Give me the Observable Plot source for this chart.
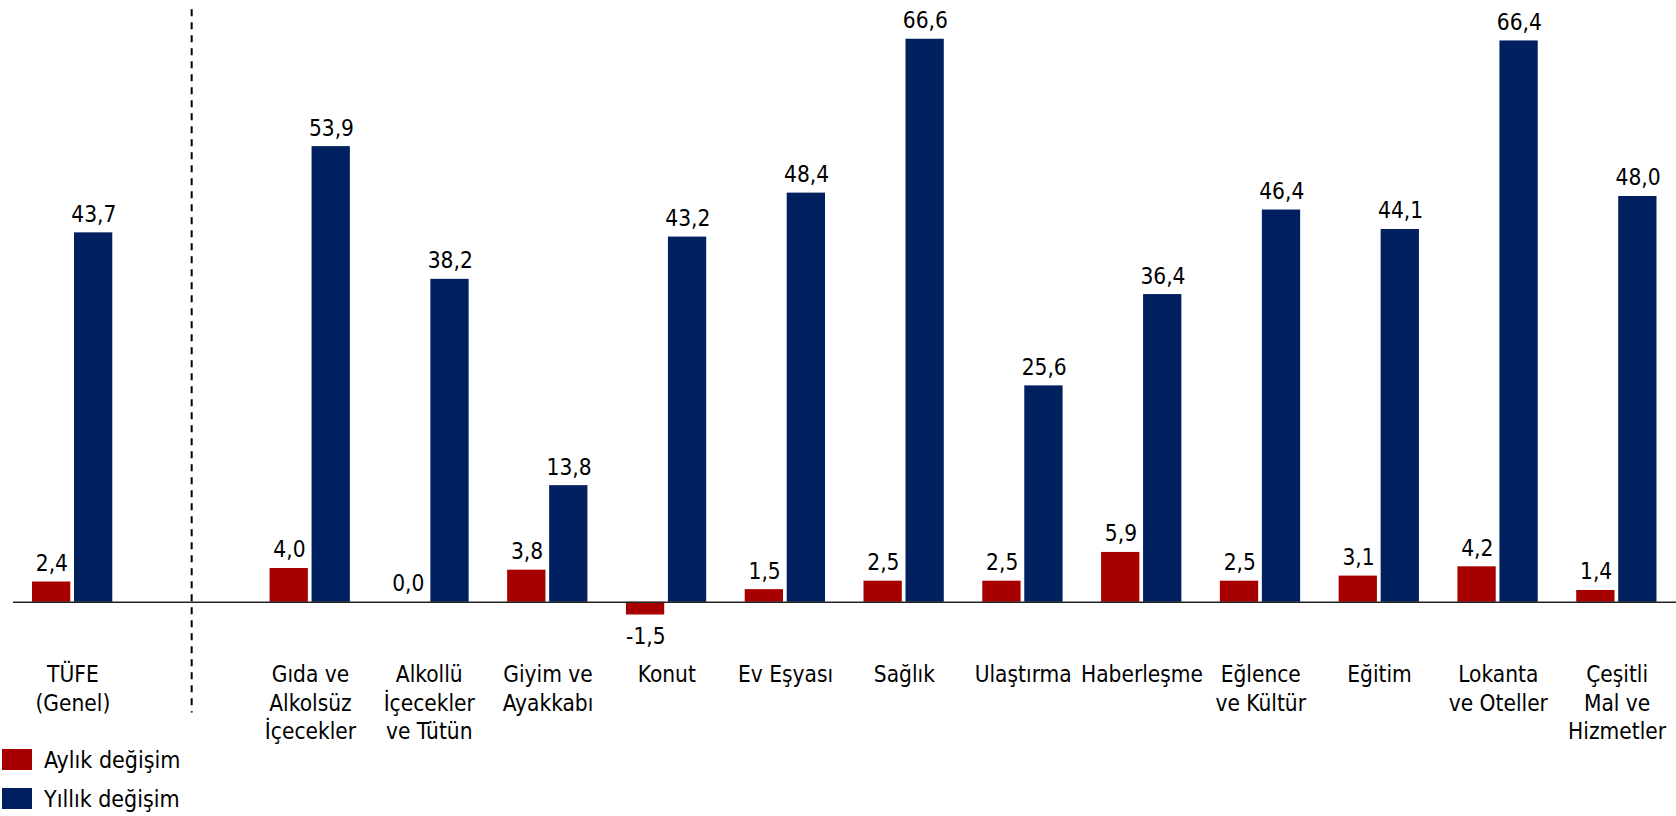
<!DOCTYPE html>
<html>
<head>
<meta charset="utf-8">
<script src="https://cdn.jsdelivr.net/npm/d3@7"></script>
<script src="https://cdn.jsdelivr.net/npm/@observablehq/plot@0.6"></script>
<style>
  html, body { margin: 0; padding: 0; background: #fff; }
  body { width: 1676px; height: 816px; overflow: hidden; font-family: "DejaVu Sans Condensed", "DejaVu Sans", sans-serif; font-stretch: condensed; }
  #chart svg { display: block; }
  .legend { position: relative; margin-left: 2px; margin-top: -20px; }
  .legend .item { display: flex; align-items: center; height: 39px; font-size: 23px; color: #000; }
  .legend .sw { width: 30px; height: 21px; margin-right: 12px; }
</style>
</head>
<body>
<div id="chart"></div>
<div class="legend" id="legend"></div>
<script>
const categories = ["TÜFE (Genel)", "gap", "Gıda ve Alkolsüz İçecekler", "Alkollü İçecekler ve Tütün", "Giyim ve Ayakkabı", "Konut", "Ev Eşyası", "Sağlık", "Ulaştırma", "Haberleşme", "Eğlence ve Kültür", "Eğitim", "Lokanta ve Oteller", "Çeşitli Mal ve Hizmetler"];
const categoryLabels = ["TÜFE\n(Genel)", "", "Gıda ve\nAlkolsüz\nİçecekler", "Alkollü\nİçecekler\nve Tütün", "Giyim ve\nAyakkabı", "Konut", "Ev Eşyası", "Sağlık", "Ulaştırma", "Haberleşme", "Eğlence\nve Kültür", "Eğitim", "Lokanta\nve Oteller", "Çeşitli\nMal ve\nHizmetler"];
const monthly = [2.4, null, 4.0, 0.0, 3.8, -1.5, 1.5, 2.5, 2.5, 5.9, 2.5, 3.1, 4.2, 1.4];
const annual = [43.7, null, 53.9, 38.2, 13.8, 43.2, 48.4, 66.6, 25.6, 36.4, 46.4, 44.1, 66.4, 48.0];
const seriesNames = ["Aylık değişim", "Yıllık değişim"];
const seriesColors = ["#a80000", "#002060"];
const dividerCategory = "gap";
const dividerTop = 70.1;
const dividerBottom = -13.1;

const labelOf = new Map(categories.map((c, i) => [c, categoryLabels[i]]));
const monthlyRows = categories.map((c, i) => ({cat: c, value: monthly[i]})).filter(d => d.value != null);
const annualRows = categories.map((c, i) => ({cat: c, value: annual[i]})).filter(d => d.value != null);
const fmt = v => v.toFixed(1).replace(".", ",");
const font = '"DejaVu Sans Condensed", "DejaVu Sans", sans-serif';

const chart = Plot.plot({
  width: 1676,
  height: 760,
  marginLeft: 13,
  marginRight: 0,
  marginTop: 10,
  marginBottom: 110,
  style: {fontFamily: font, fontSize: "22.5px", color: "#000", background: "#fff"},
  x: {domain: categories, padding: 0, round: false, label: null},
  y: {domain: [-5.7, 70], axis: null},
  marks: [
    Plot.barY(monthlyRows, {x: "cat", y: "value", fill: seriesColors[0], insetLeft: 19, insetRight: 61.5}),
    Plot.barY(annualRows, {x: "cat", y: "value", fill: seriesColors[1], insetLeft: 61, insetRight: 19.5}),
    Plot.ruleY([0], {stroke: "#222", strokeWidth: 1.6}),
    Plot.ruleX([dividerCategory], {x: d => d, y1: dividerTop, y2: dividerBottom, stroke: "#000", strokeWidth: 2, strokeDasharray: "7,6"}),
    Plot.text(monthlyRows.filter(d => d.value >= 0), {x: "cat", y: "value", text: d => fmt(d.value), dx: -21, dy: -11, lineAnchor: "bottom", fill: "#000"}),
    Plot.text(monthlyRows.filter(d => d.value < 0), {x: "cat", y: "value", text: d => fmt(d.value), dx: -21, dy: 13, lineAnchor: "top", fill: "#000"}),
    Plot.text(annualRows, {x: "cat", y: "value", text: d => fmt(d.value), dx: 21, dy: -11, lineAnchor: "bottom", fill: "#000"}),
    Plot.axisX({tickSize: 0, tickPadding: 12, lineAnchor: "top", lineHeight: 1.25, tickFormat: c => labelOf.get(c), fontSize: "22.5px", fill: "#000"})
  ]
});
document.getElementById("chart").append(chart);

const legend = document.getElementById("legend");
seriesNames.forEach((name, i) => {
  const item = document.createElement("div");
  item.className = "item";
  const sw = document.createElement("span");
  sw.className = "sw";
  sw.style.background = seriesColors[i];
  const t = document.createElement("span");
  t.textContent = name;
  item.append(sw, t);
  legend.append(item);
});
</script>
</body>
</html>
